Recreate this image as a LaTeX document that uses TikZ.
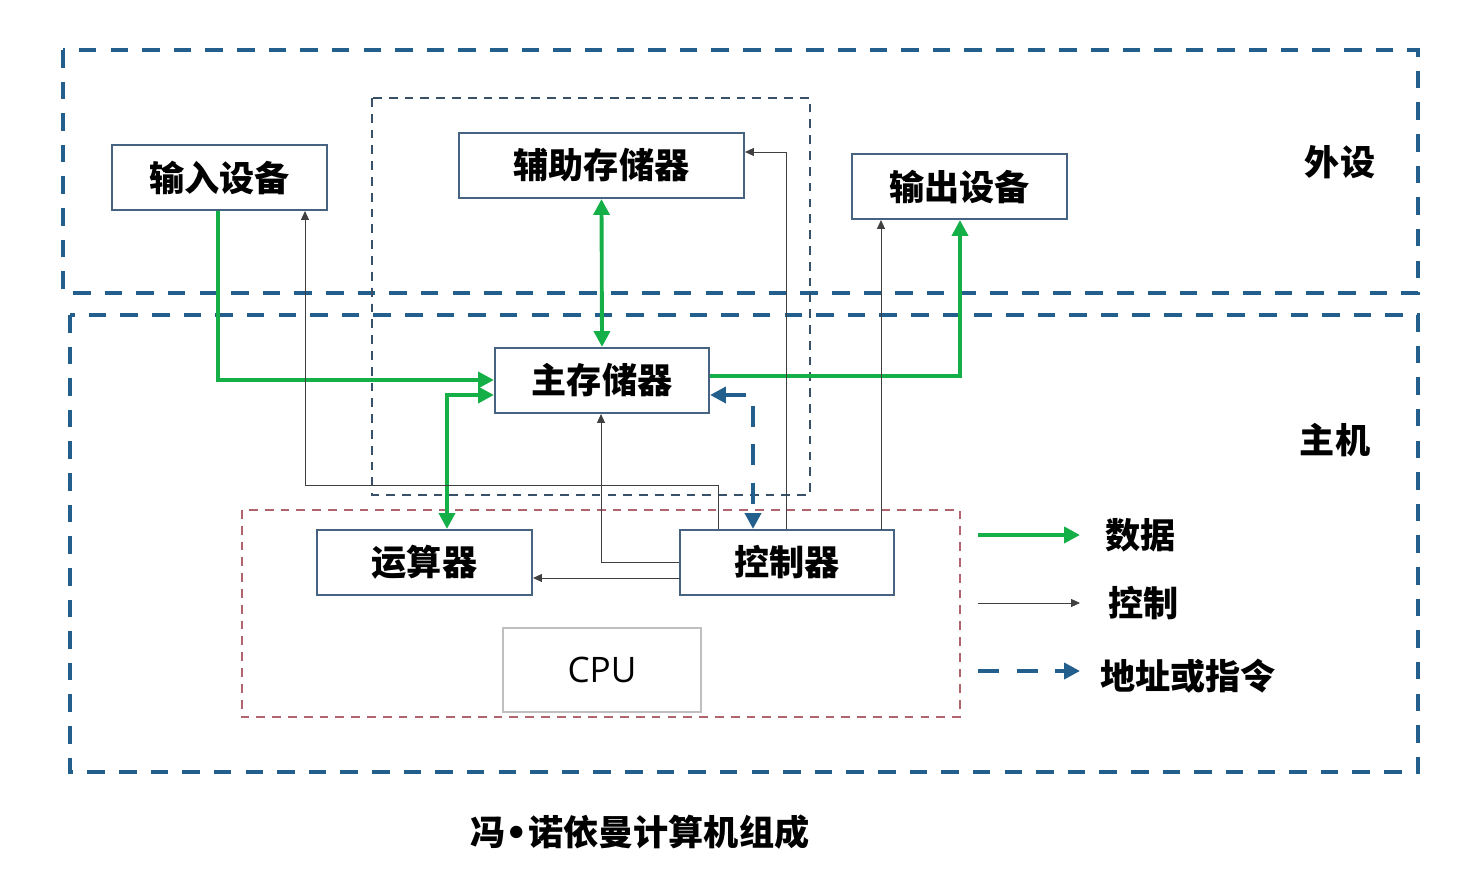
\documentclass[tikz,border=0pt]{standalone}
\usepackage{fontspec}
\setmainfont{Noto Sans CJK SC}
\usetikzlibrary{arrows.meta}
\begin{document}
\begin{tikzpicture}[x=0.02cm,y=-0.02cm,
  box/.style={draw=boxc,line width=1.2pt,minimum width=#1*0.02cm,minimum height=1.3cm,font=\fontsize{20}{20}\selectfont\bfseries,inner sep=0pt},
  data/.style={draw=dgreen,line width=2.2pt,-{Triangle[length=9pt,width=9pt]}},
  ctrl/.style={draw=black!75,line width=0.5pt,-{Triangle[length=5pt,width=4.5pt]}},
  addr/.style={draw=dblue,line width=2.2pt,dash pattern=on 12pt off 10pt,-{Triangle[length=9pt,width=9pt]}},
  region/.style={draw=dblue,line width=1.8pt,dash pattern=on 10pt off 8pt},
  lbl/.style={font=\fontsize{20}{20}\selectfont\bfseries,inner sep=0pt}]
\definecolor{boxc}{RGB}{70,100,130}
\definecolor{dgreen}{RGB}{20,175,70}
\definecolor{dblue}{RGB}{35,95,140}
\definecolor{cpur}{RGB}{175,100,110}
\useasboundingbox (0,0) rectangle (1468,884);
% regions
\draw[region] (63,50) rectangle (1418,293);
\draw[region] (70,315) rectangle (1418,772);
\draw[draw=boxc!80!black,line width=0.8pt,dash pattern=on 5pt off 4pt] (372,98) rectangle (810,495);
\draw[draw=cpur,line width=1pt,dash pattern=on 5pt off 4pt] (242,510) rectangle (960,717);
% nodes
\node[box=215,fill=white] (in) at (219.5,177.5) {输入设备};
\node[box=285,fill=white] (aux) at (601.5,165.5) {辅助存储器};
\node[box=215,fill=white] (out) at (959.5,186.5) {输出设备};
\node[box=214,fill=white] (mem) at (602,380.5) {主存储器};
\node[box=215,fill=white] (alu) at (424.5,562.5) {运算器};
\node[box=214,fill=white] (cu) at (787,562.5) {控制器};
\node[draw=black!25,line width=1pt,minimum width=3.96cm,minimum height=1.68cm,font=\fontsize{20}{20}\selectfont\fontspec{Open Sans}] (cpu) at (602,670) {CPU};
\node[lbl] (l1) at (1340,162) {外设};
\node[lbl] (l2) at (1335,440) {主机};
% coordinates
\coordinate (p1) at (218,380);
\coordinate (p2) at (447,395);
\coordinate (p3) at (960,376);
\coordinate (p4) at (753,395);
\coordinate (c1) at (718,485);
\coordinate (c2) at (305,485);
\coordinate (c3) at (786,152);
\coordinate (c4) at (601,562);
\coordinate (c5) at (881,530);
\coordinate (c6) at (680,578);
% data
\draw[data] (in.south -| p1) -- (p1) -- (mem.west |- p1);
\draw[data,{Triangle[length=9pt,width=9pt]}-{Triangle[length=9pt,width=9pt]}] (alu.north -| p2) -- (p2) -- (mem.west |- p2);
\draw[data,{Triangle[length=9pt,width=9pt]}-{Triangle[length=9pt,width=9pt]}] (aux.south) -- (mem.north);
\draw[data] (mem.east |- p3) -- (p3) -- (out.south -| p3);
% address
\draw[addr,{Triangle[length=9pt,width=9pt]}-{Triangle[length=9pt,width=9pt]}] (mem.east |- p4) -- (p4) -- (cu.north -| p4);
% control
\draw[ctrl] (cu.north -| c1) -- (c1) -- (c2) -- (in.south -| c2);
\draw[ctrl] (cu.north -| c3) -- (c3) -- (aux.east |- c3);
\draw[ctrl] (c5) -- (out.south -| c5);
\draw[ctrl] (cu.west |- c4) -- (c4) -- (mem.south -| c4);
\draw[ctrl] (c6) -- (alu.east |- c6);
% legend
\coordinate (g1) at (978,535); \coordinate (g2) at (1080,535);
\coordinate (h1) at (978,603); \coordinate (h2) at (1080,603);
\coordinate (k1) at (978,671); \coordinate (k2) at (1080,671);
\draw[data] (g1) -- (g2);
\draw[ctrl] (h1) -- (h2);
\draw[addr] (k1) -- (k2);
\node[lbl,anchor=west] (t1) at (1105,535) {数据};
\node[lbl,anchor=west] (t2) at (1108,603) {控制};
\node[lbl,anchor=west] (t3) at (1100,676) {地址或指令};
\node[lbl] (cap) at (640,832) {冯{\fontspec{DejaVu Sans}•}诺依曼计算机组成};
\end{tikzpicture}
\end{document}
